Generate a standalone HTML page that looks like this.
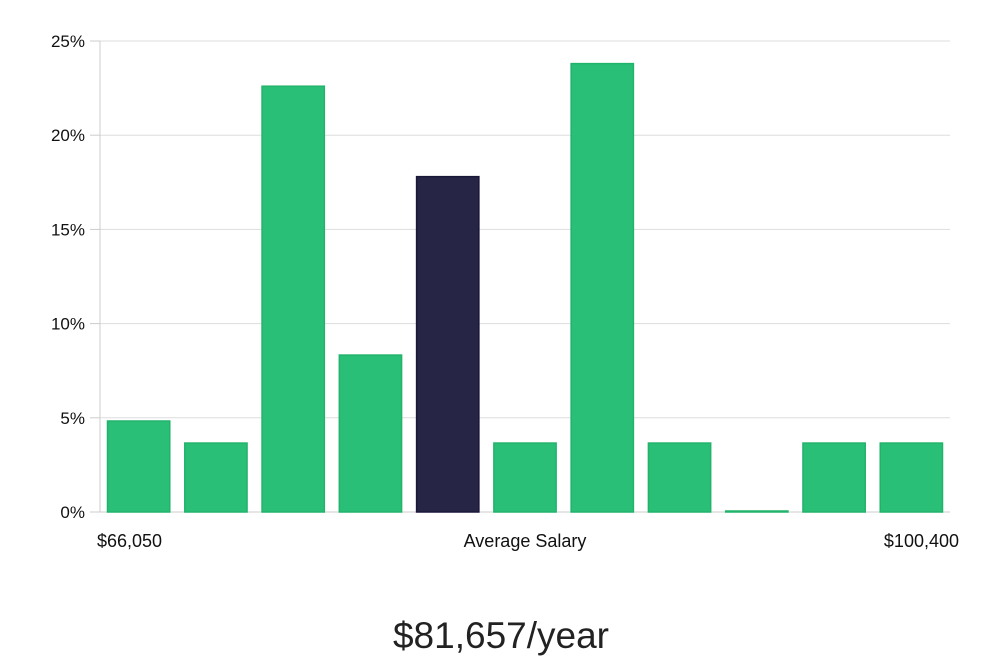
<!DOCTYPE html>
<html><head><meta charset="utf-8"><style>
body{margin:0;background:#fff;width:1000px;height:660px;overflow:hidden;font-family:"Liberation Sans","DejaVu Sans",sans-serif;}
</style></head><body>
<svg id="chart" width="1000" height="660" xmlns="http://www.w3.org/2000/svg"></svg>
<script>
const categories=["b1","b2","b3","b4","b5","b6","b7","b8","b9","b10","b11"];
const values=[4.83,3.66,22.6,8.33,17.8,3.66,23.8,3.66,0.05,3.66,3.66];
const highlight=[false,false,false,false,true,false,false,false,false,false,false];
const yTicks=[0,5,10,15,20,25];
const yTickLabels=["0%","5%","10%","15%","20%","25%"];
const xLabels=["$66,050","Average Salary","$100,400"];
const titleText="$81,657/year";
const NS="http://www.w3.org/2000/svg";
const svg=document.getElementById('chart');
const L=100,R=950,T=41,B=512,yMax=25;
const y=v=>B-(v/yMax)*(B-T);
const slot=(R-L)/categories.length;
const x=i=>L+i*slot;
function mk(tag,attrs){const e=document.createElementNS(NS,tag);for(const k in attrs)e.setAttribute(k,attrs[k]);svg.appendChild(e);return e;}
yTicks.forEach((t,i)=>{
  const g=mk('line',{x1:L,x2:R,y1:y(t),y2:y(t),stroke:t===0?'#ccc':'#ddd','stroke-width':1});
  
  
  const tk=mk('line',{x1:L-10,x2:L,y1:y(t),y2:y(t),stroke:'#ccc'});
  
  
  const tx=mk('text',{x:85,y:y(t)+6,'text-anchor':'end','font-size':17,fill:'#111'});
  tx.textContent=yTickLabels[i];
  
  
});
const ax=mk('line',{x1:L,x2:L,y1:T,y2:B,stroke:'#ccc'});


values.forEach((v,i)=>{
  const h=Math.max(B-y(v),1);
  const r=mk('rect',{x:x(i)+7.5,y:B-h,width:slot-15,height:h,fill:highlight[i]?'#272546':'#2abf77',stroke:highlight[i]?'#1a1838':'#22b36b','stroke-width':1.5});
  
  
});
const xl=[[97,'start'],[525,'middle'],[959,'end']];
xLabels.forEach((s,i)=>{
  const t=mk('text',{x:xl[i][0],y:547,'text-anchor':xl[i][1],'font-size':18,fill:'#111'});
  t.textContent=s;
  
  
});
const tt=mk('text',{x:501,y:648,'text-anchor':'middle','font-size':37,fill:'#222'});
tt.textContent=titleText;


</script>
</body></html>
